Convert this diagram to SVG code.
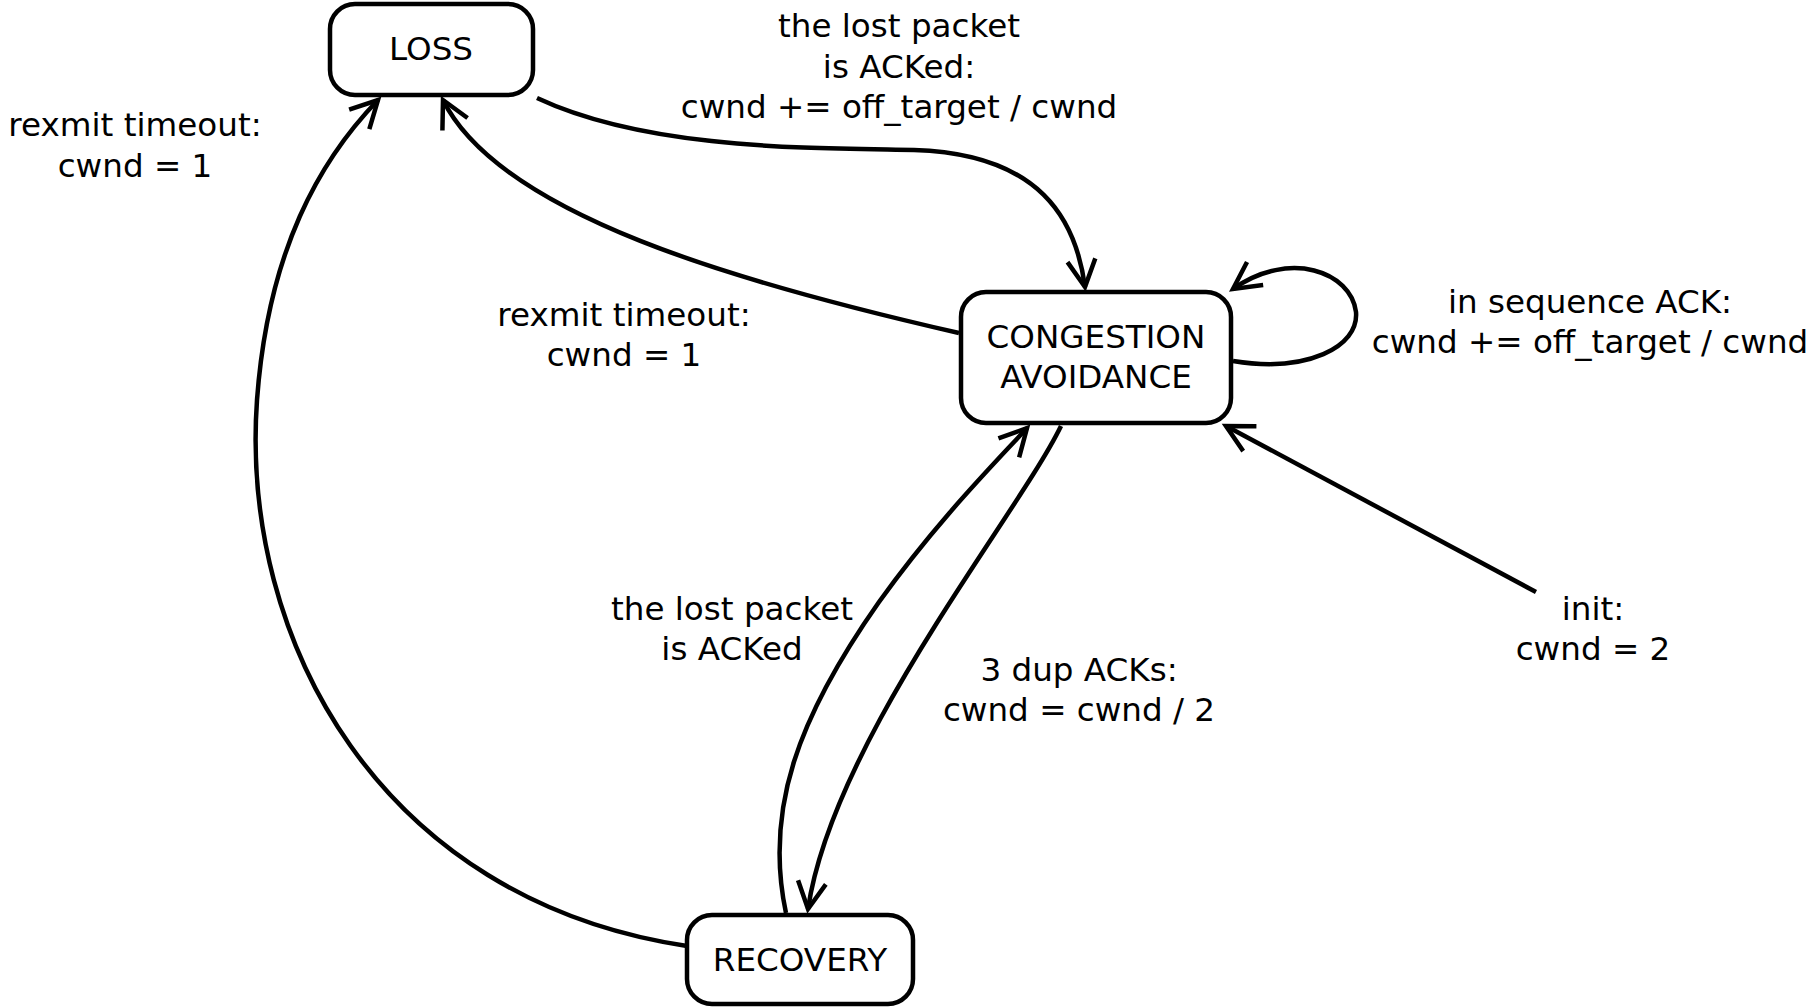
<svg xmlns="http://www.w3.org/2000/svg" width="1814" height="1008" viewBox="0 0 1814 1008">
<style>
.box{fill:#fff;stroke:#000;stroke-width:4.5}
.edge{fill:none;stroke:#000;stroke-width:4.5;marker-end:url(#arr)}
text{font-family:"DejaVu Sans",sans-serif;font-size:32.6px;fill:#000;text-anchor:middle}
</style>
<defs>
<marker id="arr" markerUnits="userSpaceOnUse" markerWidth="60" markerHeight="60" refX="0" refY="0" orient="auto" overflow="visible">
<path d="M-25,-13 L0,0 L-25,13" fill="none" stroke="#000" stroke-width="4.5" stroke-linecap="square"/>
</marker>
</defs>
<rect width="1814" height="1008" fill="#fff"/>
<g id="connectors">
<path class="edge" d="M537,98 C648,150 810,148 914,150 C1041,154 1076,220 1085,287"/>
<path class="edge" d="M959,333 C740,283 500,215 443,100"/>
<path class="edge" d="M687,946 C380,900 240,640 257,400 C268,250 320,160 378,100"/>
<path class="edge" d="M786,913 C764,810 798,717 879,602 C937,521 995,463 1027,428"/>
<path class="edge" d="M1061,426 C1018,515 833,740 808,909"/>
<path class="edge" d="M1233,361 C1307,373 1359,347 1356,312 C1351,272 1290,249 1233,289"/>
<path class="edge" d="M1536,592 L1226,426"/>
</g>
<g id="labels">
<text x="899" y="37">the lost packet</text>
<text x="899" y="78">is ACKed:</text>
<text x="899" y="118">cwnd += off_target / cwnd</text>
<text x="135" y="136">rexmit timeout:</text>
<text x="135" y="177">cwnd = 1</text>
<text x="624" y="326">rexmit timeout:</text>
<text x="624" y="366">cwnd = 1</text>
<text x="1590" y="313">in sequence ACK:</text>
<text x="1590" y="353">cwnd += off_target / cwnd</text>
<text x="732" y="620">the lost packet</text>
<text x="732" y="660">is ACKed</text>
<text x="1079" y="681">3 dup ACKs:</text>
<text x="1079" y="721">cwnd = cwnd / 2</text>
<text x="1593" y="620">init:</text>
<text x="1593" y="660">cwnd = 2</text>
</g>
<g id="loss">
<rect class="box" x="330" y="4" width="203" height="91" rx="25"/>
<text x="431" y="60">LOSS</text>
</g>
<g id="congestion-avoidance">
<rect class="box" x="961" y="292" width="270" height="131" rx="25"/>
<text x="1096" y="348">CONGESTION</text>
<text x="1096" y="388">AVOIDANCE</text>
</g>
<g id="recovery">
<rect class="box" x="687" y="915" width="226" height="89" rx="25"/>
<text x="800" y="971">RECOVERY</text>
</g>
</svg>
